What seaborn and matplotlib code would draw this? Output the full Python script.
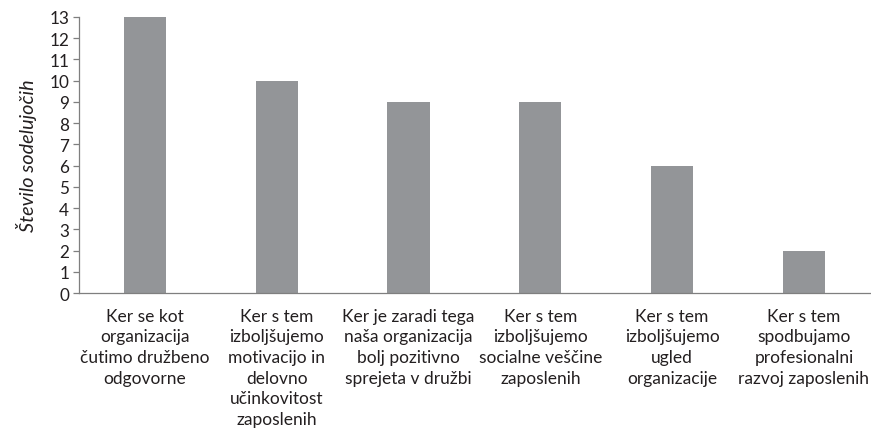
import matplotlib
matplotlib.use("Agg")
import matplotlib.pyplot as plt
import seaborn as sns
import pandas as pd

categories = [
    "Ker se kot\norganizacija\nčutimo družbeno\nodgovorne",
    "Ker s tem\nizboljšujemo\nmotivacijo in\ndelovno\nučinkovitost\nzaposlenih",
    "Ker je zaradi tega\nnaša organizacija\nbolj pozitivno\nsprejeta v družbi",
    "Ker s tem\nizboljšujemo\nsocialne veščine\nzaposlenih",
    "Ker s tem\nizboljšujemo\nugled\norganizacije",
    "Ker s tem\nspodbujamo\nprofesionalni\nrazvoj zaposlenih",
]
counts = [13, 10, 9, 9, 6, 2]

df = pd.DataFrame({"razlog": categories, "stevilo": counts})

sns.set_style("white")
plt.rcParams["font.family"] = ["Lato", "DejaVu Sans"]

fig = plt.figure(figsize=(8.71, 4.39), dpi=100)
ax = fig.add_axes([0.0907, 0.330, 0.908, 0.629])

sns.barplot(data=df, x="razlog", y="stevilo", color="#939598",
            width=0.32, saturation=1, linewidth=0, ax=ax)

ax.set_ylim(0, 13)
ax.set_yticks(range(0, 14))
ax.set_xlim(-0.5, len(categories) - 0.5)
ax.set_xlabel("")
ax.set_ylabel("Število sodelujočih", fontsize=14.3, style="italic", color="#231f20", labelpad=9)

for s in ["top", "right"]:
    ax.spines[s].set_visible(False)
for s in ["left", "bottom"]:
    ax.spines[s].set_color("#7f7f7f")
    ax.spines[s].set_linewidth(0.9)

ax.tick_params(axis="y", which="both", left=True, length=4, width=0.9, color="#7f7f7f",
               labelsize=12.3, labelcolor="#231f20", pad=3)
ax.tick_params(axis="x", bottom=False, labelsize=12.5, labelcolor="#231f20", pad=7)
for lbl in ax.get_xticklabels():
    lbl.set_linespacing(1.36)

fig.savefig("out.png", dpi=100)
